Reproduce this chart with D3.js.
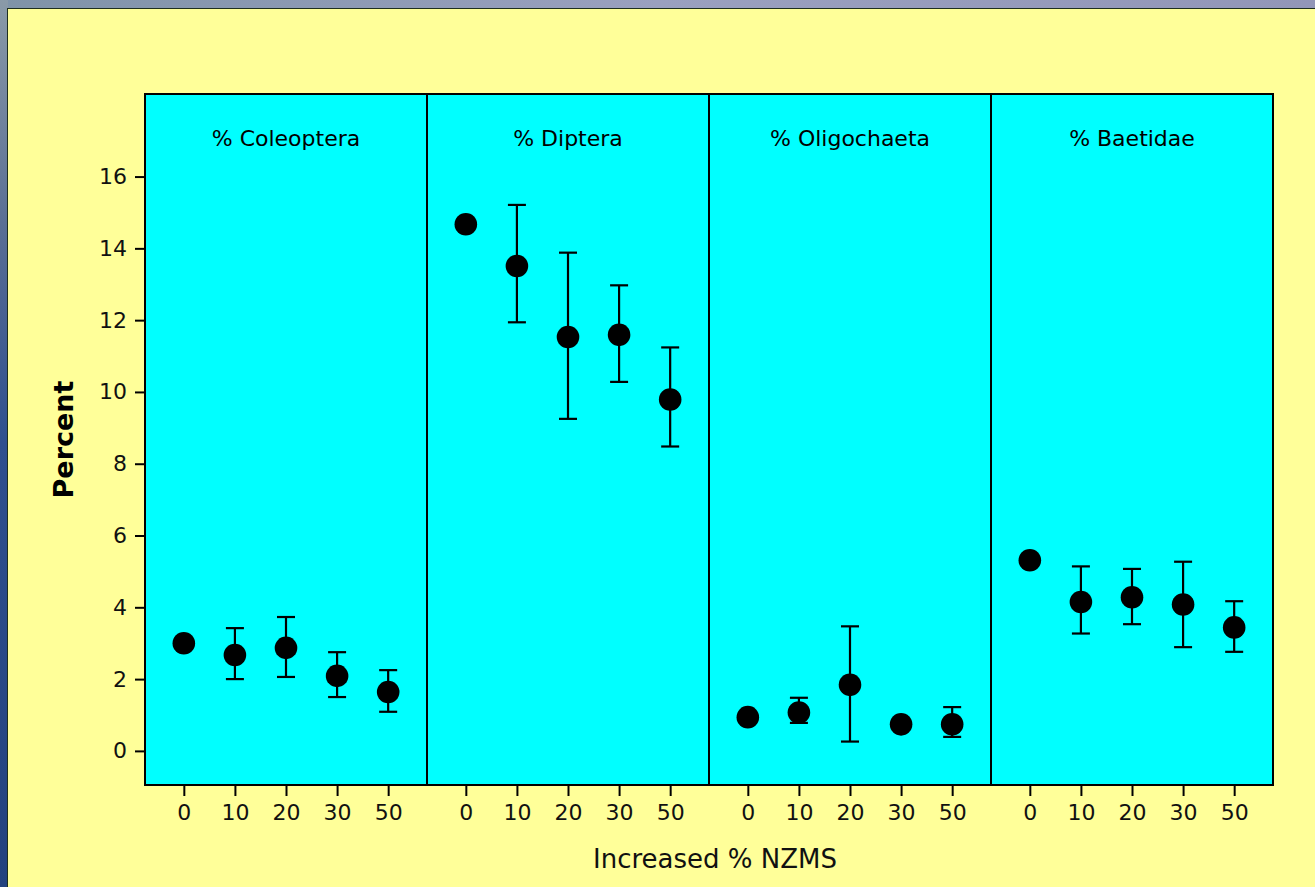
<!DOCTYPE html>
<html><head><meta charset="utf-8">
<script src="https://cdn.jsdelivr.net/npm/d3@7"></script>
<style>html,body{margin:0;padding:0;overflow:hidden;}svg{display:block;}</style>
</head><body>
<svg id="chart" width="1315" height="887"></svg>
<script>
const panels = ["% Coleoptera", "% Diptera", "% Oligochaeta", "% Baetidae"];
const categories = ["0", "10", "20", "30", "50"];
const yTicks = [0, 2, 4, 6, 8, 10, 12, 14, 16];
const yDomain = [-0.95, 18.3];
const coleopteraMean = [3.0, 2.67, 2.87, 2.09, 1.64];
const coleopteraLow  = [null, 2.0, 2.06, 1.5, 1.09];
const coleopteraHigh = [null, 3.42, 3.73, 2.75, 2.25];
const dipteraMean = [14.67, 13.51, 11.53, 11.59, 9.79];
const dipteraLow  = [null, 11.94, 9.25, 10.28, 8.48];
const dipteraHigh = [null, 15.21, 13.88, 12.97, 11.24];
const oligochaetaMean = [0.94, 1.07, 1.84, 0.74, 0.74];
const oligochaetaLow  = [null, 0.78, 0.26, null, 0.39];
const oligochaetaHigh = [null, 1.48, 3.47, null, 1.22];
const baetidaeMean = [5.31, 4.15, 4.28, 4.08, 3.44];
const baetidaeLow  = [null, 3.27, 3.53, 2.89, 2.76];
const baetidaeHigh = [null, 5.14, 5.07, 5.27, 4.17];

const seriesMeans = [coleopteraMean, dipteraMean, oligochaetaMean, baetidaeMean];
const seriesLows = [coleopteraLow, dipteraLow, oligochaetaLow, baetidaeLow];
const seriesHighs = [coleopteraHigh, dipteraHigh, oligochaetaHigh, baetidaeHigh];

const svg = d3.select("#chart");
const W = 1315, H = 887;
const plot = {left: 145, right: 1273, top: 94, bottom: 785};
const font = "'DejaVu Sans', Verdana, sans-serif";

// background
const defs = svg.append("defs");
const g1 = defs.append("linearGradient").attr("id","bgTop").attr("x1","0").attr("x2","1").attr("y1","0").attr("y2","0");
g1.append("stop").attr("offset","0").attr("stop-color","#7f93a8");
g1.append("stop").attr("offset","0.5").attr("stop-color","#9aa0bf");
g1.append("stop").attr("offset","1").attr("stop-color","#9296b8");
const g2 = defs.append("linearGradient").attr("id","bgLeft").attr("x1","0").attr("x2","0").attr("y1","0").attr("y2","1");
g2.append("stop").attr("offset","0").attr("stop-color","#8a9aa8");
g2.append("stop").attr("offset","0.25").attr("stop-color","#5a6f95");
g2.append("stop").attr("offset","0.5").attr("stop-color","#2f4f8f");
g2.append("stop").attr("offset","1").attr("stop-color","#23427f");
svg.append("rect").attr("x",0).attr("y",0).attr("width",W).attr("height",H).attr("fill","url(#bgTop)");
svg.append("rect").attr("x",0).attr("y",0).attr("width",8).attr("height",H).attr("fill","url(#bgLeft)");
svg.append("rect").attr("x",7.5).attr("y",8.5).attr("width",W).attr("height",H)
  .attr("fill","#ffff99").attr("stroke","#1f2f1f").attr("stroke-width",1);

const panelScale = d3.scaleBand().domain(panels).range([plot.left, plot.right]);
const y = d3.scaleLinear().domain(yDomain).range([plot.bottom, plot.top]);

// plot background
svg.append("rect").attr("x",plot.left).attr("y",plot.top)
  .attr("width",plot.right-plot.left).attr("height",plot.bottom-plot.top)
  .attr("fill","#00ffff");

// y axis
const yAxis = svg.append("g").attr("transform",`translate(${plot.left},0)`)
  .call(d3.axisLeft(y).tickValues(yTicks).tickSize(10).tickPadding(8).tickFormat(d3.format("d")));
yAxis.select(".domain").remove();
yAxis.selectAll(".tick line").attr("stroke","#000").attr("stroke-width",2);
yAxis.selectAll(".tick text").attr("font-family",font).attr("font-size",22).attr("fill","#111");

panels.forEach((p, i) => {
  const x0 = panelScale(p);
  const x = d3.scalePoint().domain(categories).range([x0, x0 + panelScale.bandwidth()]).padding(0.76);
  const gx = svg.append("g").attr("transform",`translate(0,${plot.bottom})`)
    .call(d3.axisBottom(x).tickSize(11).tickPadding(8));
  gx.select(".domain").remove();
  gx.selectAll(".tick line").attr("stroke","#000").attr("stroke-width",2);
  gx.selectAll(".tick text").attr("font-family",font).attr("font-size",22).attr("fill","#111");

  svg.append("text").attr("x", x0 + panelScale.bandwidth()/2).attr("y", 146)
    .attr("text-anchor","middle").attr("font-family",font).attr("font-size",22).attr("fill","#000")
    .text(p);

  const data = categories.map((c, j) => ({c, m: seriesMeans[i][j], lo: seriesLows[i][j], hi: seriesHighs[i][j]}));
  const g = svg.append("g");
  const eb = data.filter(d => d.lo !== null);
  g.selectAll("line.v").data(eb).join("line")
    .attr("x1", d => x(d.c)).attr("x2", d => x(d.c))
    .attr("y1", d => y(d.lo)).attr("y2", d => y(d.hi))
    .attr("stroke","#000").attr("stroke-width",2.2);
  ["lo","hi"].forEach(k => {
    g.selectAll("line.c"+k).data(eb).join("line")
      .attr("x1", d => x(d.c) - 9).attr("x2", d => x(d.c) + 9)
      .attr("y1", d => y(d[k])).attr("y2", d => y(d[k]))
      .attr("stroke","#000").attr("stroke-width",2.2);
  });
  g.selectAll("circle").data(data).join("circle")
    .attr("cx", d => x(d.c)).attr("cy", d => y(d.m)).attr("r", 11.3).attr("fill","#000");
});

// panel dividers
panels.slice(1).forEach(p => {
  svg.append("line").attr("x1",panelScale(p)).attr("x2",panelScale(p))
    .attr("y1",plot.top).attr("y2",plot.bottom).attr("stroke","#000").attr("stroke-width",2);
});
// border
svg.append("rect").attr("x",plot.left).attr("y",plot.top)
  .attr("width",plot.right-plot.left).attr("height",plot.bottom-plot.top)
  .attr("fill","none").attr("stroke","#000").attr("stroke-width",2);

// axis titles
svg.append("text").attr("x",(plot.left+plot.right)/2 + 6).attr("y",868)
  .attr("text-anchor","middle").attr("font-family",font).attr("font-size",26).attr("fill","#111")
  .text("Increased % NZMS");
svg.append("text").attr("transform",`translate(73,${(plot.top+plot.bottom)/2}) rotate(-90)`)
  .attr("text-anchor","middle").attr("font-family",font).attr("font-size",27).attr("font-weight","bold").attr("fill","#000")
  .text("Percent");
</script>
</body></html>
